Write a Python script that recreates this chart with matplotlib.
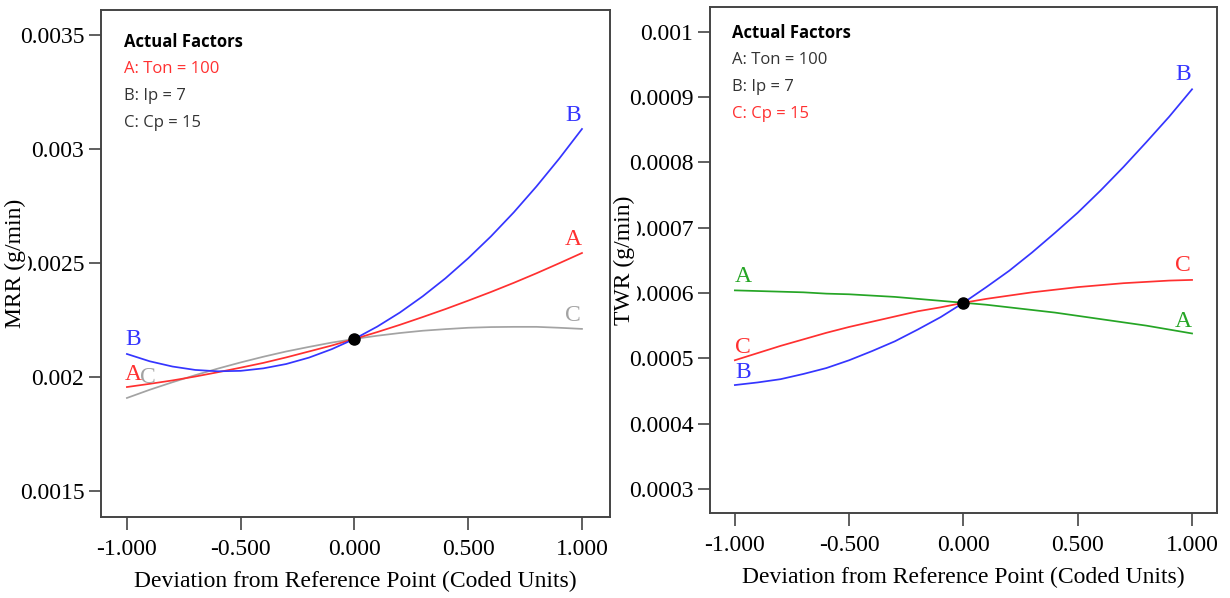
import matplotlib
matplotlib.use('Agg')
import matplotlib.pyplot as plt
import numpy as np

# Deviation from reference point (coded units)
deviation = [-1.0, -0.9, -0.8, -0.7, -0.6, -0.5, -0.4, -0.3, -0.2, -0.1, 0.0,
             0.1, 0.2, 0.3, 0.4, 0.5, 0.6, 0.7, 0.8, 0.9, 1.0]

# MRR (g/min) traces
mrr_A = [0.001956, 0.001970, 0.001985, 0.002002, 0.002021, 0.002041, 0.002062, 0.002086, 0.002112, 0.002138, 0.002167,
         0.002197, 0.002229, 0.002263, 0.002298, 0.002335, 0.002373, 0.002413, 0.002455, 0.002499, 0.002544]
mrr_B = [0.002101, 0.002069, 0.002046, 0.002031, 0.002025, 0.002027, 0.002038, 0.002057, 0.002085, 0.002122, 0.002167,
         0.002221, 0.002283, 0.002354, 0.002433, 0.002521, 0.002617, 0.002722, 0.002836, 0.002958, 0.003088]
mrr_C = [0.001908, 0.001944, 0.001977, 0.002008, 0.002037, 0.002064, 0.002089, 0.002112, 0.002132, 0.002151, 0.002167,
         0.002181, 0.002193, 0.002203, 0.002210, 0.002216, 0.002219, 0.002220, 0.002220, 0.002216, 0.002211]
mrr_ref = 0.002167

# TWR (g/min) traces
twr_A = [0.000604, 0.000603, 0.000602, 0.000601, 0.000599, 0.000598, 0.000596, 0.000594, 0.000591, 0.000588, 0.000585,
         0.000582, 0.000578, 0.000574, 0.000570, 0.000565, 0.000560, 0.000555, 0.000550, 0.000544, 0.000538]
twr_B = [0.000459, 0.000463, 0.000468, 0.000476, 0.000485, 0.000497, 0.000511, 0.000526, 0.000544, 0.000563, 0.000585,
         0.000609, 0.000634, 0.000662, 0.000692, 0.000723, 0.000757, 0.000793, 0.000831, 0.000870, 0.000912]
twr_C = [0.000497, 0.000508, 0.000519, 0.000529, 0.000539, 0.000548, 0.000556, 0.000564, 0.000572, 0.000578, 0.000585,
         0.000591, 0.000596, 0.000601, 0.000605, 0.000609, 0.000612, 0.000615, 0.000617, 0.000619, 0.000620]
twr_ref = 0.000585

x_ticks = [-1.0, -0.5, 0.0, 0.5, 1.0]
x_tick_labels = ['-1.000', '-0.500', '0.000', '0.500', '1.000']
mrr_ticks = [0.0015, 0.002, 0.0025, 0.003, 0.0035]
mrr_tick_labels = ['0.0015', '0.002', '0.0025', '0.003', '0.0035']
twr_ticks = [0.0003, 0.0004, 0.0005, 0.0006, 0.0007, 0.0008, 0.0009, 0.001]
twr_tick_labels = ['0.0003', '0.0004', '0.0005', '0.0006', '0.0007', '0.0008', '0.0009', '0.001']

factors = ['A: Ton = 100', 'B: Ip = 7', 'C: Cp = 15']

bleu = '#3535ff'
rouge = '#ff3030'
gris = '#a3a3a3'
vert = '#25a525'
texte = '#333333'

serif = 'Liberation Serif'
sans = 'Open Sans'

fig = plt.figure(figsize=(12.3, 5.98), dpi=100)
ax1 = fig.add_axes([0.0821, 0.1355, 0.4138, 0.8478])
ax2 = fig.add_axes([0.5772, 0.1421, 0.4122, 0.8462])


def habiller(ax, yticks, ylabels, ylim, ylabel, xlim):
    ax.set_xlim(*xlim)
    ax.set_ylim(*ylim)
    ax.set_xticks(x_ticks)
    ax.set_xticklabels(x_tick_labels, fontfamily=serif, fontsize=17)
    ax.set_yticks(yticks)
    ax.set_yticklabels(ylabels, fontfamily=serif, fontsize=17)
    ax.tick_params(direction='out', length=9, width=1.2, color='#444444')
    ax.tick_params(axis='x', pad=7)
    ax.tick_params(axis='y', pad=3)
    for s in ax.spines.values():
        s.set_color('#444444')
        s.set_linewidth(1.4)
    ax.set_xlabel('Deviation from Reference Point (Coded Units)', fontfamily=serif, fontsize=17, labelpad=8)
    # comme dans l'original, le titre de l'axe recouvre le premier chiffre des graduations
    lab = ax.set_ylabel(ylabel, fontfamily=serif, fontsize=17)
    lab.set_bbox(dict(facecolor='white', edgecolor='none', pad=1))
    ax.yaxis.set_label_coords(-0.147, 0.5)


def etiquette(ax, txt, x, y, col, dx, dy):
    ax.annotate(txt, (x, y), xytext=(dx, dy), textcoords='offset pixels',
                ha='center', va='center', color=col, fontfamily=serif, fontsize=17)


# --- Panneau gauche : MRR ---
ax1.plot(deviation, mrr_C, color=gris, lw=1.25)
ax1.plot(deviation, mrr_A, color=rouge, lw=1.25)
ax1.plot(deviation, mrr_B, color=bleu, lw=1.25)
ax1.plot([0.0], [mrr_ref], 'o', color='black', ms=8)
habiller(ax1, mrr_ticks, mrr_tick_labels, (0.001386, 0.00361), 'MRR (g/min)', (-1.114, 1.123))

etiquette(ax1, 'B', deviation[0], mrr_B[0], bleu, 6, 14)
etiquette(ax1, 'A', deviation[0], mrr_A[0], rouge, 6, 13)
etiquette(ax1, 'C', deviation[0], mrr_C[0], gris, 21, 20)
etiquette(ax1, 'B', deviation[-1], mrr_B[-1], bleu, -9, 13)
etiquette(ax1, 'A', deviation[-1], mrr_A[-1], rouge, -9, 13)
etiquette(ax1, 'C', deviation[-1], mrr_C[-1], gris, -9, 13)

ax1.text(0.045, 0.937, 'Actual Factors', transform=ax1.transAxes, fontfamily=sans,
         fontweight='bold', fontsize=12, color='black', va='center')
couleurs1 = [rouge, texte, texte]
for i, f in enumerate(factors):
    ax1.text(0.045, 0.884 - i * 0.0535, f, transform=ax1.transAxes, fontfamily=sans,
             fontsize=12, color=couleurs1[i], va='center')

# --- Panneau droit : TWR ---
ax2.plot(deviation, twr_A, color=vert, lw=1.25)
ax2.plot(deviation, twr_C, color=rouge, lw=1.25)
ax2.plot(deviation, twr_B, color=bleu, lw=1.25)
ax2.plot([0.0], [twr_ref], 'o', color='black', ms=8)
habiller(ax2, twr_ticks, twr_tick_labels, (0.000263, 0.001038), 'TWR (g/min)', (-1.109, 1.109))

etiquette(ax2, 'A', deviation[0], twr_A[0], vert, 8, 14)
etiquette(ax2, 'C', deviation[0], twr_C[0], rouge, 8, 13)
etiquette(ax2, 'B', deviation[0], twr_B[0], bleu, 8, 13)
etiquette(ax2, 'B', deviation[-1], twr_B[-1], bleu, -9, 15)
etiquette(ax2, 'C', deviation[-1], twr_C[-1], rouge, -9, 14)
etiquette(ax2, 'A', deviation[-1], twr_A[-1], vert, -9, 12)

ax2.text(0.043, 0.949, 'Actual Factors', transform=ax2.transAxes, fontfamily=sans,
         fontweight='bold', fontsize=12, color='black', va='center')
couleurs2 = [texte, texte, rouge]
for i, f in enumerate(factors):
    ax2.text(0.043, 0.895 - i * 0.0535, f, transform=ax2.transAxes, fontfamily=sans,
             fontsize=12, color=couleurs2[i], va='center')

fig.savefig('out.png', dpi=100, facecolor='white')
